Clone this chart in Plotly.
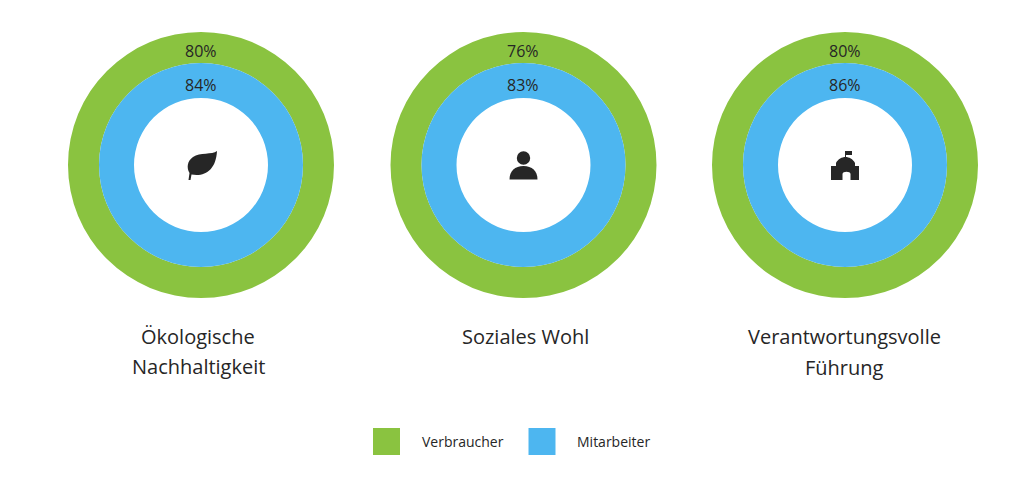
import plotly.graph_objects as go

W, H = 1024, 488

# category names split per line, as in the picture
categories = [["Ökologische", "Nachhaltigkeit"], ["Soziales Wohl"], ["Verantwortungsvolle", "Führung"]]
verbraucher = [80, 76, 80]
mitarbeiter = [84, 83, 86]
series_names = ["Verbraucher", "Mitarbeiter"]

GREEN = "#8AC340"
BLUE = "#4DB6F0"
INK = "#262626"
FONT = "Open Sans"

centers_x = [201, 523.5, 845]
center_y = 165
r_outer, r_mid, r_hole = 133, 102, 67
label_shift = [-2, 2.5, 0]  # titles are not quite centred under the rings

# icons, drawn in pixel coordinates
leaf = ("M 217 151 C 212 155 200 152 193 157 C 187 161 186.5 168 189.5 173 "
        "L 188.5 180 L 190.5 180 L 191.5 174.5 C 205 177 216 170 217 151 Z")
person_body = "M 509.5 179.5 C 509.5 171 515 166 523.5 166 C 532 166 537.5 171 537.5 179.5 Z"
building = ("M 831 180 L 831 166 L 836 166 L 836 163 C 838 159 842 157 845.5 157 "
            "C 849 157 853 159 855 163 L 855 166 L 859 166 L 859 180 L 850.5 180 "
            "L 850.5 174 C 850.5 171 842.5 171 842.5 174 L 842.5 180 Z")
flag = "M 845 157 L 845 151 L 852 151 L 852 155 L 846 155 L 846 157 Z"


def domain(cx, cy, r):
    return dict(x=[(cx - r) / W, (cx + r) / W], y=[1 - (cy + r) / H, 1 - (cy - r) / H])


fig = go.Figure()

annotations = []


def add_text(text, x, y, size):
    annotations.append(dict(text=text, x=x, y=y, xref="x", yref="y", showarrow=False,
                            xanchor="center", yanchor="middle",
                            font=dict(family=FONT, size=size, color=INK)))


for i, cx in enumerate(centers_x):
    # rings are closed circles, the share is only printed as a label
    fig.add_trace(go.Pie(values=[verbraucher[i]], labels=[series_names[0]], hole=r_mid / r_outer,
                         domain=domain(cx, center_y, r_outer), sort=False, textinfo="none",
                         marker=dict(colors=[GREEN], line=dict(width=0)), showlegend=False))
    fig.add_trace(go.Pie(values=[mitarbeiter[i]], labels=[series_names[1]], hole=r_hole / r_mid,
                         domain=domain(cx, center_y, r_mid), sort=False, textinfo="none",
                         marker=dict(colors=[BLUE], line=dict(width=0)), showlegend=False))
    add_text(f"{verbraucher[i]}%", cx - 0.5, 51, 16)
    add_text(f"{mitarbeiter[i]}%", cx - 0.5, 85, 16)
    for j, line in enumerate(categories[i]):
        add_text(line, cx + label_shift[i] - 1, 336 + 30 * j + (i == 2) * j, 20)

add_text(series_names[0], 462.5, 441, 14)
add_text(series_names[1], 613.5, 441, 14)

shapes = [
    dict(type="rect", x0=373, x1=400, y0=428, y1=455, fillcolor=GREEN, line_width=0),
    dict(type="rect", x0=528.5, x1=555.5, y0=428, y1=455, fillcolor=BLUE, line_width=0),
    dict(type="circle", x0=516.8, x1=530.2, y0=151.3, y1=164.7, fillcolor=INK, line_width=0),
]
for p in [leaf, person_body, building, flag]:
    shapes.append(dict(type="path", path=p, fillcolor=INK, line_width=0))

fig.update_layout(
    width=W, height=H,
    margin=dict(l=0, r=0, t=0, b=0),
    paper_bgcolor="white", plot_bgcolor="rgba(0,0,0,0)",
    xaxis=dict(range=[0, W], visible=False, fixedrange=True),
    yaxis=dict(range=[H, 0], visible=False, fixedrange=True),
    shapes=shapes,
    annotations=annotations,
    showlegend=False,
)

fig.write_html("out.html", config=dict(displayModeBar=False),
               post_script="document.body.style.margin='0';")
